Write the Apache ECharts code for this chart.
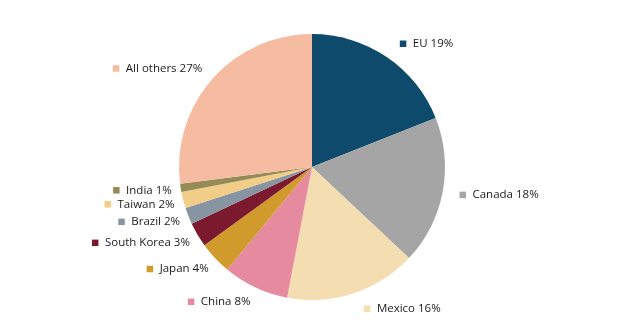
<!DOCTYPE html>
<html><head><meta charset="utf-8">
<script src="https://cdn.jsdelivr.net/npm/echarts@6/dist/echarts.min.js"></script>
<style>html,body{margin:0;padding:0;background:#fff}#c{width:624px;height:336px}</style>
</head><body><div id="c"></div>
<script>
const categories = ['EU','Canada','Mexico','China','Japan','South Korea','Brazil','Taiwan','India','All others'];
const shares = [19,18,16,8,4,3,2,2,1,27];
const colors = ['#0d4a6b','#a5a5a5','#f4ddb0','#e68aa0','#d19a2c','#7b1a2f','#8795a3','#f2cd88','#958b57','#f6bca1'];

const rich = {};
colors.forEach((c,i)=>{ rich['m'+i] = {width:6.5,height:6.5,backgroundColor:c}; });
rich.t = {fontSize:11.5, fontFamily:'Open Sans, sans-serif', color:'#1a1a1a', padding:[0,0,0,6.5]};

const total = shares.reduce((a,b)=>a+b,0);
function midSin(i){
  let cum = 0; for(let k=0;k<i;k++) cum += shares[k];
  const a = (cum + shares[i]/2)/total*2*Math.PI;
  return Math.sin(a);
}

const chart = echarts.init(document.getElementById('c'), null, {renderer:'canvas'});
chart.setOption({
  animation:false,
  backgroundColor:'#fff',
  series:[{
    type:'pie',
    center:[312,167],
    radius:133,
    startAngle:90,
    clockwise:true,
    avoidLabelOverlap:true,
    data: categories.map((n,i)=>({name:n, value:shares[i], itemStyle:{color:colors[i]}})),
    itemStyle:{borderWidth:0},
    emphasis:{disabled:true},
    label:{
      show:true,
      position:'outside',
      formatter:p=>'{m'+p.dataIndex+'|}{t|'+p.name+' '+p.value+'%}',
      rich:rich
    },
    labelLine:{show:false,length:16,length2:3},
    labelLayout:function(p){
      const s = midSin(p.dataIndex);
      return {dx: s > 0 ? -7*s : 10};
    }
  }]
});
</script></body></html>
